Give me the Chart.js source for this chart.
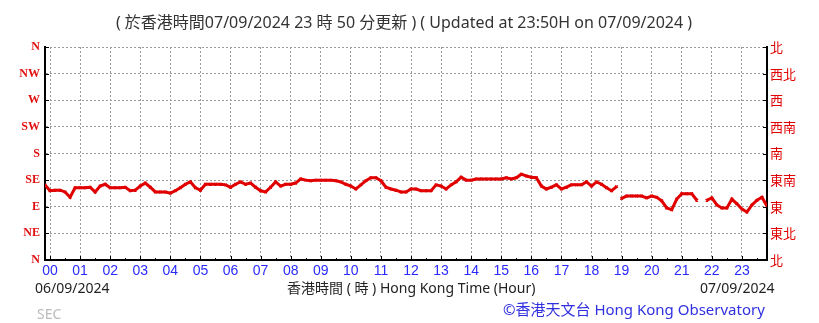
<!DOCTYPE html>
<html lang="zh-HK">
<head>
<meta charset="UTF-8" />
<title>Wind direction</title>
<script src="https://cdn.jsdelivr.net/npm/chart.js@4"></script>
<style>
  html, body { margin: 0; padding: 0; background: #fff; }
  #wrap { position: relative; width: 819px; height: 323px; overflow: hidden; }
  canvas { position: absolute; left: 0; top: 0; }
  .txt { position: absolute; white-space: nowrap; font-family: "Noto Sans", "Noto Sans CJK TC", sans-serif; line-height: 1; }
</style>
</head>
<body>
<div id="wrap">
  <canvas id="c" width="819" height="323"></canvas>
  <div class="txt" id="title" style="left:0;width:808px;text-align:center;top:14px;font-size:16px;color:#333;">( 於香港時間07/09/2024 23 時 50 分更新 ) ( Updated at 23:50H on 07/09/2024 )</div>
  <div class="txt" style="left:35px;top:281px;font-size:14px;color:#222;">06/09/2024</div>
  <div class="txt" style="left:287px;top:281px;font-size:14px;color:#222;">香港時間 ( 時 ) Hong Kong Time (Hour)</div>
  <div class="txt" style="left:700px;top:281px;font-size:14px;color:#222;">07/09/2024</div>
  <div class="txt" style="left:37px;top:307px;font-size:14px;color:#bbb;">SEC</div>
  <div class="txt" style="left:503px;top:302px;font-size:15px;color:#3030e0;">©香港天文台 Hong Kong Observatory</div>
</div>
<script>
// wind direction (degrees), one reading every 10 minutes from 23:50 to 23:50
const windDir = [
  127, 117, 118, 118, 115, 106, 122, 122, 122, 123,
  115, 125, 128, 122, 122, 122, 123, 117, 118, 125,
  130, 123, 115, 115, 115, 113, 117, 122, 128, 132,
  122, 118, 128, 128, 128, 128, 127, 123, 128, 132,
  128, 130, 123, 117, 115, 123, 132, 125, 128, 128,
  130, 137, 135, 134, 135, 135, 135, 135, 134, 132,
  128, 125, 120, 127, 134, 139, 139, 134, 123, 120,
  118, 115, 115, 120, 120, 117, 117, 117, 127, 125,
  120, 127, 132, 140, 135, 135, 137, 137, 137, 137,
  137, 137, 139, 137, 139, 145, 142, 140, 139, 125,
  120, 123, 127, 120, 123, 127, 127, 127, 132, 125,
  132, 128, 122, 117, 124, 104, 108, 108, 108, 108,
  105, 108, 106, 100, 88, 85, 103, 112, 112, 112,
  101, null, 101, 105, 93, 88, 88, 103, 95, 86,
  81, 93, 101, 106, 91
];
// indexes after which the record is broken (no line to the next reading)
const breaksAfter = [114];
const startHour = -10 / 60;           // 23:50 of previous day
const stepHour = 10 / 60;
const hourLabels = ["00","01","02","03","04","05","06","07","08","09","10","11",
                    "12","13","14","15","16","17","18","19","20","21","22","23"];
const dirLabelsEn = ["N", "NE", "E", "SE", "S", "SW", "W", "NW", "N"];
const dirLabelsZh = ["北", "東北", "東", "東南", "南", "西南", "西", "西北", "北"];

const points = windDir.map((v, i) => ({ x: startHour + i * stepHour, y: v }));

// short inward tick marks on the three solid axes
const innerTicks = {
  id: "innerTicks",
  afterDraw(chart) {
    const { ctx, chartArea: a, scales } = chart;
    ctx.save();
    ctx.strokeStyle = "#000";
    ctx.lineWidth = 1;
    ctx.beginPath();
    for (let d = 0; d <= 360; d += 45) {
      const y = Math.round(scales.y.getPixelForValue(d)) + 0.5;
      ctx.moveTo(a.left, y); ctx.lineTo(a.left + 4, y);
      ctx.moveTo(a.right, y); ctx.lineTo(a.right - 4, y);
    }
    for (let h = 0; h < 24; h += 0.5) {
      const x = Math.round(scales.x.getPixelForValue(h)) + 0.5;
      const len = h % 1 === 0 ? 4 : 2;
      ctx.moveTo(x, a.bottom); ctx.lineTo(x, a.bottom - len);
    }
    ctx.stroke();
    ctx.restore();
  }
};

new Chart(document.getElementById("c"), {
  type: "line",
  data: {
    datasets: [{
      data: points,
      borderColor: "#e00000",
      backgroundColor: "#e00000",
      borderWidth: 3,
      pointStyle: "crossRot",
      pointRadius: 1.8,
      pointBorderWidth: 1.3,
      spanGaps: false,
      tension: 0,
      segment: {
        borderColor: (ctx) => breaksAfter.includes(ctx.p0DataIndex) ? "rgba(0,0,0,0)" : undefined
      }
    }]
  },
  options: {
    responsive: false,
    animation: false,
    events: [],
    layout: { padding: { top: 47, left: 0, right: 0, bottom: 0 } },
    plugins: { legend: { display: false }, tooltip: { enabled: false } },
    scales: {
      x: {
        type: "linear",
        min: startHour,
        max: 23 + 50 / 60,
        afterFit: (s) => { s.height = 63; },
        afterBuildTicks: (s) => { s.ticks = hourLabels.map((_, i) => ({ value: i })); },
        grid: { color: "#9a9a9a", lineWidth: 1, drawTicks: false },
        border: { display: true, color: "#000", width: 2, dash: [2, 2] },
        ticks: {
          autoSkip: false,
          maxRotation: 0,
          padding: 3,
          color: "#2a2aff",
          font: { family: "Liberation Sans", size: 14 },
          callback: (v) => hourLabels[Math.round(v)]
        }
      },
      y: {
        position: "left",
        min: 0,
        max: 360,
        afterFit: (s) => { s.width = 45; },
        grid: { color: "#9a9a9a", lineWidth: 1, drawTicks: false },
        border: { display: true, color: "#000", width: 2, dash: [2, 2] },
        ticks: {
          stepSize: 45,
          padding: 5,
          color: "#e01010",
          font: { family: "Liberation Serif", size: 12, weight: "bold" },
          callback: (v) => dirLabelsEn[v / 45]
        }
      },
      y2: {
        position: "right",
        min: 0,
        max: 360,
        afterFit: (s) => { s.width = 52; },
        grid: { drawOnChartArea: false, drawTicks: false },
        border: { display: true, color: "#000", width: 2 },
        ticks: {
          stepSize: 45,
          padding: 3,
          color: "#e00000",
          font: { family: "Noto Sans CJK TC", size: 13 },
          callback: (v) => dirLabelsZh[v / 45]
        }
      }
    }
  },
  plugins: [innerTicks]
});
</script>
</body>
</html>
